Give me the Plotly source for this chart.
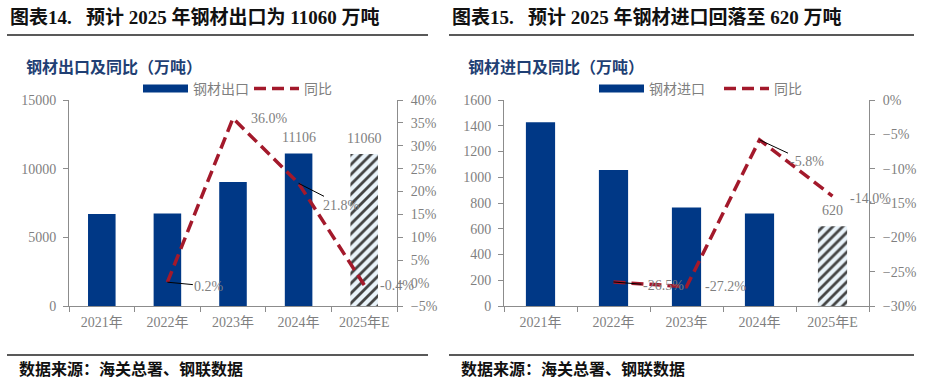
import plotly.graph_objects as go

# ---------------- data ----------------
years = ["2021年", "2022年", "2023年", "2024年", "2025年E"]
export_vol = [6690, 6732, 9026, 11106, 11060]
export_yoy = [None, 0.2, 36.0, 21.8, -0.4]
export_bar_labels = ["", "", "", "11106", "11060"]
import_vol = [1427, 1057, 765, 718, 620]
import_yoy = [None, -26.5, -27.2, -5.8, -14.0]
import_bar_labels = ["", "", "", "", "620"]

# ---------------- style ----------------
W, H = 930, 382
BLUE = "#003886"
RED = "#A3192B"
HATCH_BG = "#EAF4FB"
HATCH_FG = "#1B2F5E"
GRAY = "#7F7F7F"
AXIS = "#8C8C8C"
SUB = "#1F3F74"
FONT = "Liberation Serif, Noto Sans CJK SC"
CJK = "Noto Sans CJK SC"


def px(x):
    return x / W


def py(y):
    return 1 - y / H


fig = go.Figure()

bar_colors = [BLUE, BLUE, BLUE, BLUE, HATCH_BG]
pattern = dict(shape=["", "", "", "", "/"], fgcolor=HATCH_FG, fgopacity=1,
               fillmode="overlay", size=7, solidity=0.4)
DASH = "12px,6px"

# left panel
fig.add_trace(go.Bar(x=years, y=export_vol, xaxis="x", yaxis="y", width=0.42,
                     marker=dict(color=bar_colors, pattern=pattern, line=dict(width=0)),
                     showlegend=False, name="钢材出口"))
fig.add_trace(go.Scatter(x=[None], y=[None], xaxis="x", yaxis="y", mode="lines",
                         line=dict(color=BLUE, width=8), name="钢材出口", legend="legend"))
fig.add_trace(go.Scatter(x=years, y=export_yoy, xaxis="x", yaxis="y2", mode="lines",
                         line=dict(color=RED, width=3.5, dash=DASH), name="同比",
                         legend="legend", cliponaxis=False))

# right panel
fig.add_trace(go.Bar(x=years, y=import_vol, xaxis="x2", yaxis="y3", width=0.4,
                     marker=dict(color=bar_colors, pattern=pattern, line=dict(width=0)),
                     showlegend=False, name="钢材进口"))
fig.add_trace(go.Scatter(x=[None], y=[None], xaxis="x2", yaxis="y3", mode="lines",
                         line=dict(color=BLUE, width=8), name="钢材进口", legend="legend2"))
fig.add_trace(go.Scatter(x=years, y=import_yoy, xaxis="x2", yaxis="y4", mode="lines",
                         line=dict(color=RED, width=3.5, dash=DASH), name="同比",
                         legend="legend2", cliponaxis=False))

ydom = [py(306), py(100)]
tickfont = dict(color=GRAY, size=14, family=FONT)

xcommon = dict(type="category", categoryorder="array", categoryarray=years,
               range=[-0.5, len(years) - 0.5],
               showline=True, linecolor=AXIS, linewidth=1, ticks="outside",
               tickson="boundaries", ticklen=5, tickcolor=AXIS, showgrid=False,
               tickfont=tickfont, automargin=False, ticklabelstandoff=3)
ycommon = dict(showline=True, linecolor=AXIS, linewidth=1, ticks="outside", ticklen=5,
               tickcolor=AXIS, showgrid=False, zeroline=False, tickfont=tickfont,
               domain=ydom, tickformat="d", automargin=False)

legcommon = dict(orientation="h", yanchor="middle", xanchor="left",
                 font=dict(family=CJK, size=14, color=GRAY), bgcolor="rgba(0,0,0,0)",
                 itemwidth=45, entrywidthmode="pixels", tracegroupgap=0)

fig.update_layout(
    width=W, height=H,
    margin=dict(l=0, r=0, t=0, b=0),
    paper_bgcolor="white", plot_bgcolor="white",
    font=dict(family=FONT, color=GRAY),
    xaxis=dict(xcommon, domain=[px(69), px(397)], anchor="y"),
    yaxis=dict(ycommon, range=[0, 15000], dtick=5000, anchor="x", ticklabelstandoff=4),
    yaxis2=dict(ycommon, range=[-5, 40], dtick=5, ticksuffix="%", overlaying="y",
                side="right", anchor="x", ticklabelstandoff=5),
    xaxis2=dict(xcommon, domain=[px(504), px(869)], anchor="y3"),
    yaxis3=dict(ycommon, range=[0, 1600], dtick=200, anchor="x2", ticklabelstandoff=4),
    yaxis4=dict(ycommon, range=[-30, 0], dtick=5, ticksuffix="%", overlaying="y3",
                side="right", anchor="x2", ticklabelstandoff=5),
    legend=dict(legcommon, x=px(138), y=py(89), entrywidth=51),
    legend2=dict(legcommon, x=px(594), y=py(89), entrywidth=65),
)

# ---------------- header / footer text and rules ----------------
ann = []
ann.append(dict(text="<b>图表14.\u00a0\u00a0\u00a0预计 2025 年钢材出口为 11060 万吨</b>", x=px(8), y=py(17),
                xref="paper", yref="paper", xanchor="left", yanchor="middle", showarrow=False,
                font=dict(family=FONT, size=19, color="#111111")))
ann.append(dict(text="<b>图表15.\u00a0\u00a0\u00a0预计 2025 年钢材进口回落至 620 万吨</b>", x=px(450), y=py(17),
                xref="paper", yref="paper", xanchor="left", yanchor="middle", showarrow=False,
                font=dict(family=FONT, size=19, color="#111111")))
ann.append(dict(text="<b>钢材出口及同比（万吨）</b>", x=px(24), y=py(66), xref="paper", yref="paper",
                xanchor="left", yanchor="middle", showarrow=False,
                font=dict(family=CJK, size=16, color=SUB)))
ann.append(dict(text="<b>钢材进口及同比（万吨）</b>", x=px(466), y=py(66), xref="paper", yref="paper",
                xanchor="left", yanchor="middle", showarrow=False,
                font=dict(family=CJK, size=16, color=SUB)))
ann.append(dict(text="<b>数据来源：海关总署、钢联数据</b>", x=px(17), y=py(368), xref="paper", yref="paper",
                xanchor="left", yanchor="middle", showarrow=False,
                font=dict(family=CJK, size=16, color="#111111")))
ann.append(dict(text="<b>数据来源：海关总署、钢联数据</b>", x=px(459), y=py(368), xref="paper", yref="paper",
                xanchor="left", yanchor="middle", showarrow=False,
                font=dict(family=CJK, size=16, color="#111111")))

lblfont = dict(family=FONT, size=14, color=GRAY)

# bar value labels
for i, t in enumerate(export_bar_labels):
    if t:
        ann.append(dict(x=years[i], y=export_vol[i], xref="x", yref="y", text=t,
                        showarrow=False, xanchor="center", yanchor="middle", yshift=16,
                        font=lblfont))
for i, t in enumerate(import_bar_labels):
    if t:
        ann.append(dict(x=years[i], y=import_vol[i], xref="x2", yref="y3", text=t,
                        showarrow=False, xanchor="center", yanchor="middle", yshift=16,
                        font=lblfont))


def pct(v):
    return f"{v:.1f}%"


def plain(xref, yref, i, vals, dx, dy):
    return dict(x=years[i], y=vals[i], xref=xref, yref=yref, text=pct(vals[i]),
                showarrow=False, xanchor="left", yanchor="middle", xshift=dx, yshift=dy,
                font=lblfont)


def leader(xref, yref, i, vals, ax, ay):
    return dict(x=years[i], y=vals[i], xref=xref, yref=yref, text=pct(vals[i]),
                showarrow=True, arrowhead=0, arrowwidth=1, arrowcolor="black",
                ax=ax, ay=ay, font=lblfont, standoff=0)


# left line labels
ann.append(leader("x", "y2", 1, export_yoy, 42, 4))
ann.append(plain("x", "y2", 2, export_yoy, 16, 0))
ann.append(leader("x", "y2", 3, export_yoy, 43, 22))
ann.append(plain("x", "y2", 4, export_yoy, 14, -1))
# right line labels
ann.append(leader("x2", "y4", 1, import_yoy, 50, 4))
ann.append(plain("x2", "y4", 2, import_yoy, 16, 0))
ann.append(leader("x2", "y4", 3, import_yoy, 47, 22))
ann.append(plain("x2", "y4", 4, import_yoy, 15, -2))

shapes = []
for x0, x1 in [(7, 428), (449, 914)]:
    shapes.append(dict(type="line", xref="paper", yref="paper", x0=px(x0), x1=px(x1),
                       y0=py(35), y1=py(35), line=dict(color="#222222", width=1.5)))
    shapes.append(dict(type="line", xref="paper", yref="paper", x0=px(x0), x1=px(x1),
                       y0=py(355), y1=py(355), line=dict(color="#222222", width=1.5)))

fig.update_layout(annotations=ann, shapes=shapes)

fig.write_html("out.html", config={"displayModeBar": False},
               post_script="document.body.style.margin='0';document.body.style.padding='0';")
